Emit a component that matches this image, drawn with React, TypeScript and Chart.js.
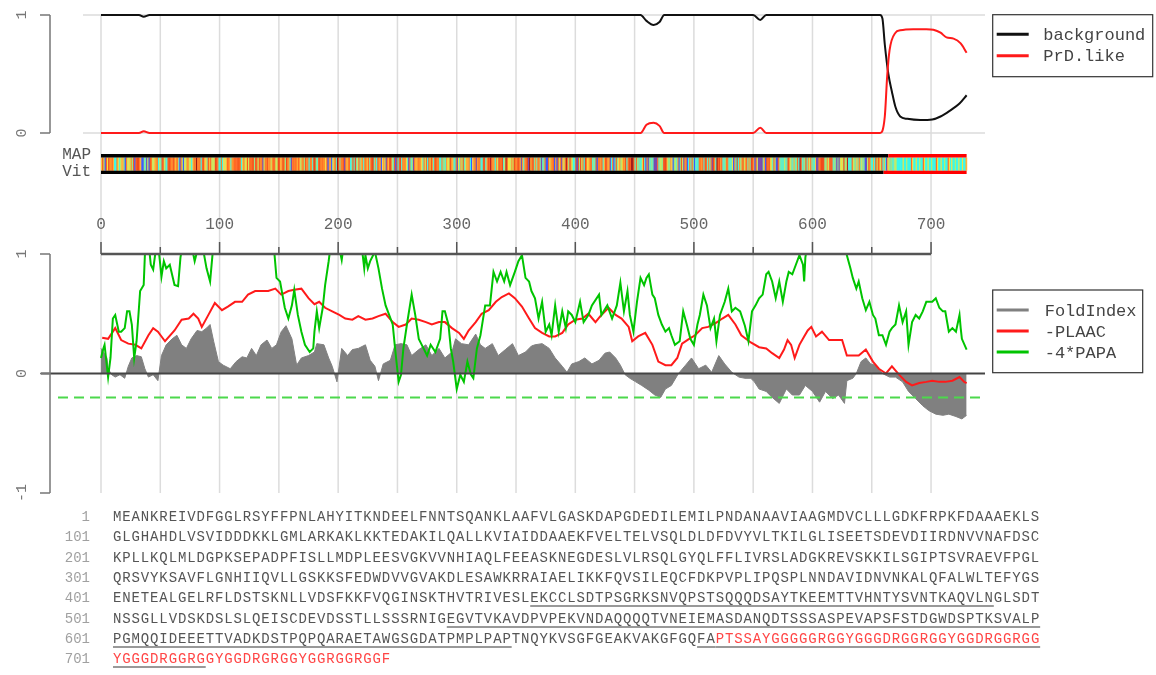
import React, { useEffect, useRef } from "react";
import { Chart, registerables } from "chart.js";

Chart.register(...registerables);

const MONO = '"Liberation Mono", "DejaVu Sans Mono", monospace';
const CANVAS_W = 1156;
const CANVAS_H = 500;

// ---------------- data ----------------
const sequenceRows = [
  "MEANKREIVDFGGLRSYFFPNLAHYITKNDEELFNNTSQANKLAAFVLGASKDAPGDEDILEMILPNDANAAVIAAGMDVCLLLGDKFRPKFDAAAEKLS",
  "GLGHAHDLVSVIDDDKKLGMLARKAKLKKTEDAKILQALLKVIAIDDAAEKFVELTELVSQLDLDFDVYVLTKILGLISEETSDEVDIIRDNVVNAFDSC",
  "KPLLKQLMLDGPKSEPADPFISLLMDPLEESVGKVVNHIAQLFEEASKNEGDESLVLRSQLGYQLFFLIVRSLADGKREVSKKILSGIPTSVRAEVFPGL",
  "QRSVYKSAVFLGNHIIQVLLGSKKSFEDWDVVGVAKDLESAWKRRAIAELIKKFQVSILEQCFDKPVPLIPQSPLNNDAVIDNVNKALQFALWLTEFYGS",
  "ENETEALGELRFLDSTSKNLLVDSFKKFVQGINSKTHVTRIVESLEKCCLSDTPSGRKSNVQPSTSQQQDSAYTKEEMTTVHNTYSVNTKAQVLNGLSDT",
  "NSSGLLVDSKDSLSLQEISCDEVDSSTLLSSSRNIGEGVTVKAVDPVPEKVNDAQQQQTVNEIEMASDANQDTSSSASPEVAPSFSTDGWDSPTKSVALP",
  "PGMQQIDEEETTVADKDSTPQPQARAETAWGSGDATPMPLPAPTNQYKVSGFGEAKVAKGFGQFAPTSSAYGGGGGRGGYGGGDRGGRGGYGGDRGGRGG",
  "YGGGDRGGRGGYGGDRGRGGYGGRGGRGGF",
];
const rowNumbers = [1, 101, 201, 301, 401, 501, 601, 701];
const sequence = sequenceRows.join("");
const underlineRanges: [number, number][] = [[446, 495], [537, 643], [664, 710]];
const prdCoreRange: [number, number] = [666, 730];

const stateNames = ["background", "PrD.like"];
const mapStateStarts = [1, 665];
const vitStateStarts = [1, 661];

const gridTicks = [0, 50, 100, 150, 200, 250, 300, 350, 400, 450, 500, 550, 600, 650, 700];
const axisLabelTicks = [0, 100, 200, 300, 400, 500, 600, 700];
const topYTicks = [0, 1];
const bottomYTicks = [-1, 0, 1];
const papaThreshold = -0.2;

const backgroundPos = [0, 32, 36, 41, 455, 460, 466, 471, 475, 550, 556, 561, 657, 659, 661, 664, 667, 670, 674, 680, 691, 701, 708, 716, 724, 730];
const backgroundVal = [1, 1, 0.985, 1, 1, 0.95, 0.915, 0.94, 1, 1, 0.958, 1, 1, 0.97, 0.75, 0.5, 0.35, 0.22, 0.14, 0.12, 0.11, 0.115, 0.14, 0.19, 0.25, 0.32];

const prdPos = [0, 32, 36, 41, 455, 460, 466, 471, 475, 550, 556, 561, 657, 661, 663, 665, 670, 674, 685, 696, 702, 708, 713, 719, 725, 730];
const prdVal = [0, 0, 0.015, 0, 0, 0.07, 0.087, 0.06, 0, 0, 0.045, 0, 0, 0.14, 0.48, 0.7, 0.85, 0.87, 0.88, 0.88, 0.875, 0.85, 0.81, 0.8, 0.76, 0.68];

const foldPos = [0, 2, 5, 6, 9, 12, 16, 20, 23, 26, 30, 34, 37, 40, 44, 48, 51, 55, 60, 64, 68, 72, 76, 81, 85, 89, 92, 95, 99, 103, 109, 114, 119, 123, 127, 131, 135, 140, 144, 148, 152, 156, 161, 165, 169, 175, 180, 182, 188, 192, 195, 199, 203, 208, 212, 217, 223, 227, 231, 234, 238, 244, 248, 253, 258, 262, 268, 274, 279, 285, 290, 296, 299, 304, 310, 316, 320, 324, 330, 335, 341, 347, 352, 358, 363, 366, 372, 378, 383, 389, 393, 397, 403, 408, 414, 420, 425, 429, 434, 438, 442, 446, 451, 456, 462, 467, 472, 476, 481, 487, 493, 498, 504, 510, 515, 521, 526, 532, 538, 543, 548, 551, 555, 561, 566, 572, 578, 583, 589, 594, 600, 606, 611, 617, 622, 627, 629, 634, 637, 641, 645, 649, 653, 659, 665, 670, 676, 681, 687, 693, 698, 704, 710, 715, 721, 726, 730];
const foldVal = [0.21, 0.18, 0.13, 0.04, -0.01, -0.03, -0.01, -0.04, 0.06, 0.13, 0.15, 0.14, 0.04, -0.03, -0.01, -0.06, 0.15, 0.24, 0.29, 0.32, 0.24, 0.21, 0.29, 0.36, 0.35, 0.38, 0.41, 0.27, 0.1, 0.07, 0.04, 0.1, 0.14, 0.13, 0.21, 0.15, 0.24, 0.28, 0.21, 0.24, 0.35, 0.4, 0.29, 0.07, 0.13, 0.15, 0.18, 0.25, 0.24, 0.13, 0.06, -0.07, 0.21, 0.15, 0.2, 0.21, 0.24, 0.11, 0.06, -0.06, 0.08, 0.11, 0.24, 0.25, 0.24, 0.15, 0.2, 0.24, 0.15, 0.21, 0.13, 0.18, 0.29, 0.25, 0.24, 0.33, 0.24, 0.21, 0.25, 0.15, 0.2, 0.25, 0.15, 0.18, 0.23, 0.24, 0.25, 0.21, 0.13, 0.06, 0.01, 0.08, 0.1, 0.13, 0.08, 0.11, 0.17, 0.18, 0.13, 0.07, -0.01, -0.04, -0.07, -0.1, -0.14, -0.18, -0.2, -0.13, -0.1, 0, 0.07, 0.13, 0.04, 0.07, 0.01, 0.15, 0.08, 0.01, -0.03, -0.04, -0.04, -0.07, -0.13, -0.15, -0.2, -0.25, -0.13, -0.18, -0.18, -0.1, -0.15, -0.24, -0.15, -0.21, -0.18, -0.25, -0.06, -0.04, 0, 0.1, 0.13, 0.08, 0.07, 0, -0.03, -0.03, -0.07, -0.15, -0.21, -0.27, -0.31, -0.34, -0.35, -0.34, -0.36, -0.38, -0.35];

const plaacPos = [1, 6, 12, 17, 23, 29, 34, 40, 44, 48, 54, 62, 68, 74, 78, 82, 85, 90, 96, 102, 107, 113, 119, 124, 130, 135, 141, 147, 152, 158, 163, 169, 175, 180, 184, 189, 195, 201, 206, 212, 217, 223, 229, 234, 240, 246, 251, 257, 262, 268, 274, 279, 285, 290, 296, 302, 306, 310, 316, 321, 327, 333, 338, 344, 349, 355, 361, 366, 372, 378, 383, 389, 394, 400, 406, 411, 417, 422, 428, 434, 439, 445, 448, 453, 459, 465, 470, 476, 481, 486, 490, 496, 501, 507, 512, 518, 524, 529, 535, 540, 548, 555, 561, 566, 572, 576, 579, 582, 585, 589, 593, 596, 599, 603, 608, 614, 620, 625, 629, 634, 639, 645, 651, 656, 662, 667, 673, 679, 684, 690, 696, 701, 707, 712, 718, 724, 728, 730];
const plaacVal = [0.3, 0.29, 0.38, 0.28, 0.25, 0.24, 0.21, 0.32, 0.38, 0.35, 0.27, 0.36, 0.45, 0.46, 0.5, 0.46, 0.39, 0.48, 0.59, 0.53, 0.56, 0.6, 0.6, 0.66, 0.69, 0.69, 0.69, 0.71, 0.66, 0.69, 0.7, 0.71, 0.63, 0.58, 0.6, 0.55, 0.52, 0.49, 0.46, 0.45, 0.48, 0.45, 0.46, 0.48, 0.5, 0.43, 0.39, 0.41, 0.46, 0.45, 0.43, 0.41, 0.43, 0.43, 0.38, 0.34, 0.29, 0.36, 0.43, 0.5, 0.53, 0.6, 0.64, 0.67, 0.63, 0.56, 0.46, 0.38, 0.34, 0.31, 0.31, 0.34, 0.41, 0.45, 0.46, 0.5, 0.43, 0.49, 0.55, 0.49, 0.46, 0.39, 0.27, 0.31, 0.34, 0.24, 0.1, 0.07, 0.07, 0.13, 0.25, 0.29, 0.32, 0.38, 0.39, 0.42, 0.46, 0.49, 0.41, 0.32, 0.26, 0.22, 0.21, 0.17, 0.13, 0.2, 0.28, 0.24, 0.13, 0.24, 0.31, 0.36, 0.39, 0.31, 0.35, 0.28, 0.28, 0.28, 0.15, 0.15, 0.15, 0.2, 0.1, 0.04, 0, 0.06, -0.01, -0.07, -0.1, -0.08, -0.07, -0.06, -0.07, -0.07, -0.06, -0.03, -0.07, -0.08];

const papaPos = [0, 2, 3, 6, 8, 10, 12, 15, 17, 20, 22, 24, 26, 28, 30, 33, 36, 37, 39, 42, 44, 46, 48, 51, 53, 55, 58, 62, 65, 67, 70, 75, 78, 79, 81, 85, 89, 92, 94, 96, 105, 115, 125, 135, 145, 148, 151, 153, 155, 158, 161, 163, 166, 169, 172, 176, 179, 180, 182, 184, 187, 189, 192, 194, 198, 203, 205, 212, 220, 222, 223, 225, 227, 231, 234, 237, 240, 243, 246, 248, 251, 253, 255, 258, 262, 265, 268, 272, 275, 278, 282, 286, 288, 290, 293, 295, 297, 300, 303, 306, 309, 312, 314, 317, 320, 324, 328, 331, 334, 337, 340, 342, 345, 349, 352, 355, 358, 361, 363, 366, 369, 372, 375, 378, 380, 383, 386, 389, 392, 394, 397, 400, 404, 407, 411, 414, 420, 422, 427, 431, 435, 438, 441, 444, 446, 449, 452, 455, 458, 460, 462, 465, 467, 470, 473, 476, 479, 481, 484, 488, 491, 494, 497, 500, 503, 505, 508, 511, 514, 517, 519, 522, 526, 529, 532, 535, 539, 543, 546, 549, 552, 555, 558, 561, 563, 566, 569, 572, 575, 578, 580, 583, 586, 589, 592, 593, 594, 596, 605, 615, 624, 628, 629, 632, 634, 637, 639, 642, 645, 648, 651, 653, 656, 659, 662, 665, 667, 670, 673, 676, 679, 681, 684, 687, 690, 693, 696, 701, 704, 707, 710, 712, 715, 718, 721, 724, 725, 726, 730];
const papaVal = [0.13, 0.21, 0.24, -0.03, 0.13, 0.46, 0.49, 0.35, 0.35, 0.38, 0.52, 0.52, 0.41, 0.13, 0.27, 0.69, 0.74, 0.99, 1.2, 0.91, 0.87, 1.02, 1.1, 0.81, 0.94, 0.88, 0.91, 0.74, 0.73, 0.97, 1.15, 1.1, 0.99, 0.94, 1.02, 1.1, 0.88, 0.77, 0.99, 1.2, 1.35, 1.3, 1.4, 1.3, 1.15, 0.8, 0.77, 0.66, 0.55, 0.46, 0.57, 0.7, 0.49, 0.35, 0.24, 0.18, 0.21, 0.35, 0.52, 0.38, 0.55, 0.74, 0.94, 1.1, 1.2, 0.95, 1.1, 1.25, 1.05, 0.88, 0.99, 0.88, 0.94, 1.02, 0.88, 0.71, 0.57, 0.49, 0.41, 0.21, -0.07, -0.01, 0.21, 0.41, 0.66, 0.49, 0.29, 0.21, 0.15, 0.24, 0.18, 0.29, 0.52, 0.52, 0.41, 0.21, 0.1, -0.13, -0.01, -0.07, 0.1, -0.01, -0.04, 0.21, 0.32, 0.57, 0.57, 0.85, 0.77, 0.85, 0.77, 0.85, 0.74, 0.85, 0.94, 0.99, 0.8, 0.77, 0.69, 0.63, 0.46, 0.6, 0.35, 0.41, 0.32, 0.57, 0.35, 0.52, 0.38, 0.52, 0.49, 0.43, 0.6, 0.43, 0.49, 0.57, 0.66, 0.49, 0.57, 0.46, 0.57, 0.76, 0.52, 0.69, 0.49, 0.35, 0.6, 0.8, 0.74, 0.8, 0.83, 0.66, 0.63, 0.49, 0.41, 0.35, 0.38, 0.32, 0.24, 0.27, 0.52, 0.41, 0.29, 0.24, 0.41, 0.49, 0.66, 0.57, 0.38, 0.46, 0.27, 0.49, 0.6, 0.71, 0.52, 0.55, 0.52, 0.4, 0.27, 0.52, 0.57, 0.63, 0.66, 0.83, 0.85, 0.77, 0.63, 0.77, 0.6, 0.77, 0.85, 0.83, 0.91, 0.99, 0.91, 0.77, 0.97, 1.1, 1.3, 1.3, 1.15, 1.02, 0.99, 0.88, 0.8, 0.71, 0.77, 0.63, 0.53, 0.6, 0.49, 0.46, 0.32, 0.32, 0.24, 0.35, 0.38, 0.41, 0.57, 0.43, 0.52, 0.24, 0.43, 0.49, 0.46, 0.52, 0.6, 0.6, 0.63, 0.55, 0.52, 0.52, 0.35, 0.38, 0.35, 0.49, 0.38, 0.29, 0.2];

// ---------------- styles ----------------
const GRID = "#dcdcdc";
const AXIS = "#666";
const TEXT = "#555";
const BLACK = "#111111";
const RED = "#ff1a1a";
const GREEN = "#00c400";
const GRAY = "#808080";
const DASH_GREEN = "#4cd84c";
const stateColors = ["#000000", "#ff0000"];
const aaColors: Record<string, string> = {
  C: "#a01818", W: "#b82424",
  E: "#f04a1c", K: "#f85a20", D: "#ff6a26",
  L: "#ff7e28", I: "#ff8c2c", V: "#ff9a32",
  F: "#ffb43a", M: "#ffc83e", H: "#ffd848", R: "#f6e040",
  A: "#cce860", Y: "#b8ee6a", T: "#98e888", P: "#88dca0",
  S: "#60eec8", G: "#38f8ec",
  N: "#3a5cff", Q: "#7a4cb0",
};

const X_MIN = -15.18;
const X_MAX = 745.5;

function pts(xs: number[], ys: number[]) {
  return xs.map((x, i) => ({ x, y: ys[i] }));
}

function rotLabel(ctx: CanvasRenderingContext2D, text: string, x: number, y: number) {
  ctx.save();
  ctx.translate(x, y);
  ctx.rotate(-Math.PI / 2);
  ctx.textAlign = "center";
  ctx.textBaseline = "alphabetic";
  ctx.fillText(text, 0, 0);
  ctx.restore();
}

function drawYAxis(chart: any, ticks: number[]) {
  const { ctx } = chart;
  const ys = chart.scales.y;
  const lo = ys.getPixelForValue(Math.min(...ticks));
  const hi = ys.getPixelForValue(Math.max(...ticks));
  ctx.save();
  ctx.strokeStyle = "#777";
  ctx.lineWidth = 1.5;
  ctx.beginPath();
  ctx.moveTo(50, hi);
  ctx.lineTo(50, lo);
  for (const t of ticks) {
    const py = ys.getPixelForValue(t);
    ctx.moveTo(40, py);
    ctx.lineTo(50, py);
  }
  ctx.stroke();
  ctx.fillStyle = "#777";
  ctx.font = `15px ${MONO}`;
  for (const t of ticks) rotLabel(ctx, String(t), 26, ys.getPixelForValue(t));
  ctx.restore();
}

function drawLegend(chart: any, bx: number, by: number, bw: number, bh: number, rows: number[], textOff: number) {
  const { ctx } = chart;
  ctx.save();
  ctx.strokeStyle = "#333";
  ctx.lineWidth = 1.2;
  ctx.strokeRect(bx, by, bw, bh);
  ctx.font = `17px ${MONO}`;
  ctx.textBaseline = "middle";
  ctx.textAlign = "left";
  chart.data.datasets.forEach((ds: any, i: number) => {
    const y = by + rows[i];
    ctx.strokeStyle = ds.borderColor;
    ctx.lineWidth = 3;
    ctx.beginPath();
    ctx.moveTo(bx + 4, y);
    ctx.lineTo(bx + 36, y);
    ctx.stroke();
    ctx.fillStyle = "#444";
    ctx.fillText(ds.label, bx + textOff, y + 1);
  });
  ctx.restore();
}

function drawVGrid(chart: any, top: number, bottom: number) {
  const { ctx } = chart;
  const xs = chart.scales.x;
  ctx.save();
  ctx.strokeStyle = GRID;
  ctx.lineWidth = 1.5;
  ctx.beginPath();
  for (const t of gridTicks) {
    const px = xs.getPixelForValue(t);
    ctx.moveTo(px, top);
    ctx.lineTo(px, bottom);
  }
  ctx.stroke();
  ctx.restore();
}

const topPlugin = {
  id: "topPanel",
  beforeDatasetsDraw(chart: any) {
    const { ctx, chartArea: a } = chart;
    const ys = chart.scales.y;
    drawVGrid(chart, a.top, a.bottom);
    ctx.save();
    ctx.strokeStyle = GRID;
    ctx.lineWidth = 1.5;
    ctx.beginPath();
    for (const v of topYTicks) {
      const py = ys.getPixelForValue(v);
      ctx.moveTo(a.left, py);
      ctx.lineTo(a.right, py);
    }
    ctx.stroke();
    ctx.restore();
  },
  afterDatasetsDraw(chart: any) {
    const { ctx } = chart;
    const xs = chart.scales.x;
    const ys = chart.scales.y;
    const y0 = ys.getPixelForValue(0);
    const mapTop = y0 + 21;
    const stripeTop = y0 + 24.5;
    const stripeBot = y0 + 37.7;
    const vitBot = y0 + 41;
    ctx.save();
    for (let i = 1; i <= sequence.length; i++) {
      const x1 = xs.getPixelForValue(i - 1);
      const x2 = xs.getPixelForValue(i);
      ctx.fillStyle = aaColors[sequence[i - 1]] || "#ccc";
      ctx.fillRect(x1, stripeTop, x2 - x1 + 0.6, stripeBot - stripeTop);
    }
    const drawParse = (starts: number[], yA: number, yB: number) => {
      starts.forEach((s, k) => {
        const e = k + 1 < starts.length ? starts[k + 1] - 1 : sequence.length;
        const x1 = xs.getPixelForValue(s - 1);
        const x2 = xs.getPixelForValue(e);
        ctx.fillStyle = stateColors[k];
        ctx.fillRect(x1, yA, x2 - x1, yB - yA);
      });
    };
    drawParse(mapStateStarts, mapTop, stripeTop);
    drawParse(vitStateStarts, stripeBot, vitBot);
    ctx.fillStyle = TEXT;
    ctx.font = `16px ${MONO}`;
    ctx.textAlign = "right";
    ctx.textBaseline = "middle";
    ctx.fillText("MAP", 91, y0 + 21.5);
    ctx.fillText("Vit", 91, y0 + 39);
    ctx.restore();
    drawYAxis(chart, topYTicks);
    drawLegend(chart, 992.7, 14.7, 160, 62, [19.6, 41], 50.6);
  },
};

const bottomPlugin = {
  id: "bottomPanel",
  beforeDatasetsDraw(chart: any) {
    const { chartArea: a } = chart;
    drawVGrid(chart, a.top, a.bottom);
  },
  afterDatasetsDraw(chart: any) {
    const { ctx, chartArea: a } = chart;
    const xs = chart.scales.x;
    const ys = chart.scales.y;
    ctx.save();
    ctx.strokeStyle = DASH_GREEN;
    ctx.lineWidth = 2;
    ctx.setLineDash([10, 6]);
    ctx.beginPath();
    const pd = ys.getPixelForValue(papaThreshold);
    ctx.moveTo(58, pd);
    ctx.lineTo(a.right, pd);
    ctx.stroke();
    ctx.setLineDash([]);
    ctx.strokeStyle = "#444";
    ctx.lineWidth = 2;
    ctx.beginPath();
    const p0 = ys.getPixelForValue(0);
    ctx.moveTo(41, p0);
    ctx.lineTo(a.right, p0);
    ctx.stroke();
    const axY = a.top;
    ctx.strokeStyle = "#555";
    ctx.lineWidth = 2.5;
    ctx.beginPath();
    ctx.moveTo(xs.getPixelForValue(gridTicks[0]), axY);
    ctx.lineTo(xs.getPixelForValue(gridTicks[gridTicks.length - 1]), axY);
    ctx.stroke();
    ctx.lineWidth = 1.5;
    ctx.beginPath();
    for (const t of gridTicks) {
      const px = xs.getPixelForValue(t);
      const len = axisLabelTicks.includes(t) ? 12 : 7;
      ctx.moveTo(px, axY);
      ctx.lineTo(px, axY - len);
    }
    ctx.stroke();
    ctx.fillStyle = AXIS;
    ctx.font = `16px ${MONO}`;
    ctx.textAlign = "center";
    ctx.textBaseline = "middle";
    for (const t of axisLabelTicks) ctx.fillText(String(t), xs.getPixelForValue(t), axY - 29);
    ctx.restore();
    drawYAxis(chart, bottomYTicks);
    drawLegend(chart, 992.7, 290, 150, 82.7, [20, 41, 62], 52);
  },
};

function baseOptions(padTop: number, padBottom: number, yMin: number, yMax: number) {
  return {
    responsive: false,
    animation: false as const,
    devicePixelRatio: 1,
    events: [] as any[],
    layout: { padding: { left: 83, right: CANVAS_W - 985, top: padTop, bottom: padBottom } },
    plugins: { legend: { display: false }, tooltip: { enabled: false } },
    scales: {
      x: { type: "linear" as const, display: false, min: X_MIN, max: X_MAX },
      y: { type: "linear" as const, display: false, min: yMin, max: yMax },
    },
  };
}

function TopPanel() {
  const ref = useRef<HTMLCanvasElement>(null);
  useEffect(() => {
    const chart = new Chart(ref.current!, {
      type: "line",
      data: {
        datasets: [
          { label: stateNames[0], data: pts(backgroundPos, backgroundVal), borderColor: BLACK, borderWidth: 2, pointRadius: 0, cubicInterpolationMode: "monotone", clip: false as any, order: 1 },
          { label: stateNames[1], data: pts(prdPos, prdVal), borderColor: RED, borderWidth: 2, pointRadius: 0, cubicInterpolationMode: "monotone", clip: false as any, order: 0 },
        ],
      },
      options: baseOptions(15, CANVAS_H - 254, -1.0254, 1) as any,
      plugins: [topPlugin],
    });
    return () => chart.destroy();
  }, []);
  return <canvas ref={ref} width={CANVAS_W} height={CANVAS_H} style={{ position: "absolute", left: 0, top: 0 }} />;
}

function BottomPanel() {
  const ref = useRef<HTMLCanvasElement>(null);
  useEffect(() => {
    const clip = { left: 10, right: 10, top: 0, bottom: 10 };
    const chart = new Chart(ref.current!, {
      type: "line",
      data: {
        datasets: [
          { label: "FoldIndex", data: pts(foldPos, foldVal), borderColor: GRAY, backgroundColor: GRAY, borderWidth: 1, fill: "origin", pointRadius: 0, tension: 0, clip, order: 2 },
          { label: "-PLAAC", data: pts(plaacPos, plaacVal), borderColor: RED, borderWidth: 2, pointRadius: 0, tension: 0, clip, order: 1 },
          { label: "-4*PAPA", data: pts(papaPos, papaVal), borderColor: GREEN, borderWidth: 2, pointRadius: 0, tension: 0, clip, order: 0 },
        ],
      },
      options: baseOptions(254, CANVAS_H - 493, -1, 1) as any,
      plugins: [bottomPlugin],
    });
    return () => chart.destroy();
  }, []);
  return <canvas ref={ref} width={CANVAS_W} height={CANVAS_H} style={{ position: "absolute", left: 0, top: 0 }} />;
}

function SequenceRow({ text, start, center }: { text: string; start: number; center: number }) {
  const segs: { key: number; text: string }[] = [];
  for (let i = 0; i < text.length; i++) {
    const r = start + i;
    const ul = underlineRanges.some(([a, b]) => r >= a && r <= b);
    const red = r >= prdCoreRange[0] && r <= prdCoreRange[1];
    const key = (ul ? 1 : 0) + (red ? 2 : 0);
    const last = segs[segs.length - 1];
    if (last && last.key === key) last.text += text[i];
    else segs.push({ key, text: text[i] });
  }
  const top = center - 10;
  return (
    <div style={{ position: "absolute", left: 0, top, height: 20, width: 1156, fontFamily: MONO, fontSize: 14, lineHeight: "20px", whiteSpace: "pre" }}>
      <span style={{ position: "absolute", left: 0, width: 90, textAlign: "right", color: "#a0a0a0" }}>{start}</span>
      <span style={{ position: "absolute", left: 113, letterSpacing: "0.87px", color: TEXT }}>
        {segs.map((s, i) => (
          <span
            key={i}
            style={{
              color: s.key & 2 ? "#ff4646" : TEXT,
              textDecoration: s.key & 1 ? "underline" : "none",
              textDecorationColor: "#999",
              textDecorationThickness: "1.5px",
              textUnderlineOffset: "3px",
            }}
          >
            {s.text}
          </span>
        ))}
      </span>
    </div>
  );
}

export default function App() {
  return (
    <div style={{ position: "absolute", left: 0, top: 0, width: 1156, height: 675, background: "#fff", overflow: "hidden" }}>
      <TopPanel />
      <BottomPanel />
      {sequenceRows.map((row, k) => (
        <SequenceRow key={k} text={row} start={rowNumbers[k]} center={517 + 20.3 * k} />
      ))}
    </div>
  );
}
